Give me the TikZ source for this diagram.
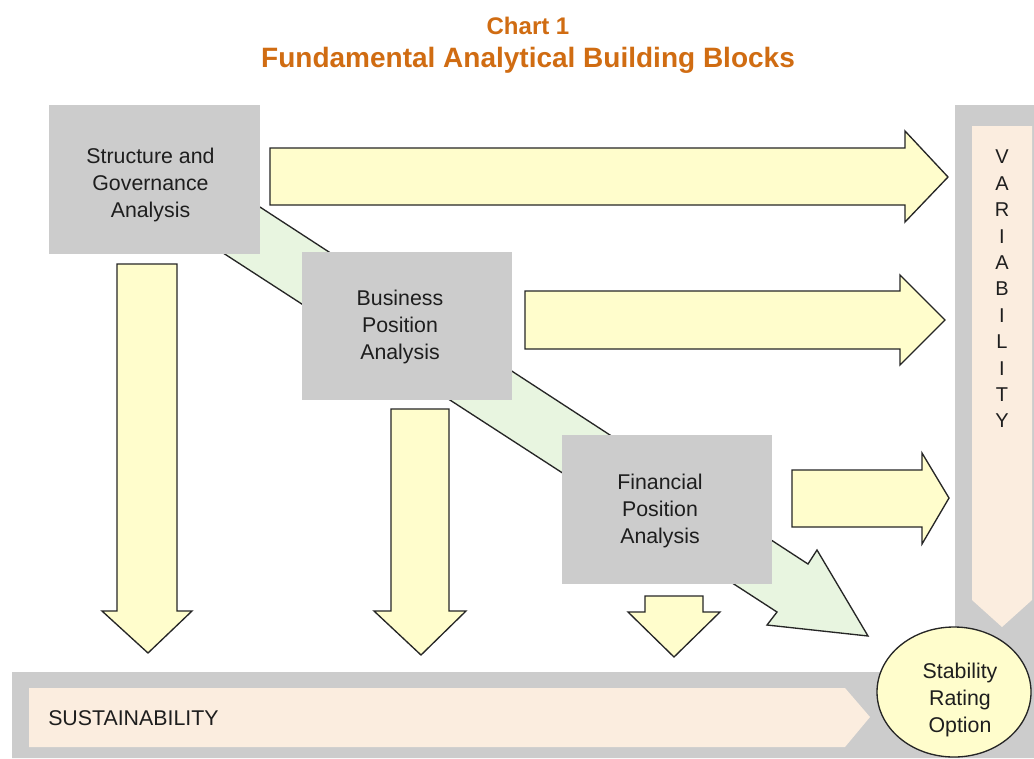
\documentclass[tikz,border=0pt]{standalone}
\usepackage{fontspec}
\setmainfont{Liberation Sans}
\usetikzlibrary{shapes.geometric}
\definecolor{boxgray}{RGB}{204,204,204}
\definecolor{ylw}{RGB}{255,253,204}
\definecolor{grn}{RGB}{232,245,224}
\definecolor{peach}{RGB}{251,237,223}
\definecolor{ttl}{RGB}{208,108,18}
\definecolor{txt}{RGB}{30,30,30}
\begin{document}
\begin{tikzpicture}[x=0.75pt,y=-0.75pt,
  blockbox/.style={fill=boxgray, draw=none, inner sep=0pt},
  yarrow/.style={fill=ylw, draw=black!85, line width=1pt, line join=miter},
  garrow/.style={fill=grn, draw=black!85, line width=1pt, line join=miter},
  framefill/.style={fill=boxgray, draw=none},
  peachfill/.style={fill=peach, draw=none},
  titlea/.style={font=\bfseries\fontsize{18}{22}\selectfont, text=ttl},
  titleb/.style={font=\bfseries\fontsize{21}{25}\selectfont, text=ttl},
  lbl/.style={font=\fontsize{16}{20.25}\selectfont, text=txt, inner sep=0pt, align=center}
]
\useasboundingbox (0,0) rectangle (1034,758);
\fill[white] (0,0) rectangle (1034,758);

% titles
\node[titlea] (t1) at (528,26) {Chart 1};
\node[titleb] (t2) at (528,60) {Fundamental Analytical Building Blocks};

% grey L frame
\path[framefill] (955,105) -- (1034,105) -- (1034,758) -- (12,758) -- (12,672) -- (955,672) -- cycle;
% peach strips
\path[peachfill] (972,126) -- (1032,126) -- (1032,600) -- (1002,627) -- (972,600) -- cycle;
\path[peachfill] (29,688) -- (845,688) -- (870,717) -- (845,747) -- (29,747) -- cycle;

% green diagonal band
\draw[garrow] (220,181) -- (808,564) -- (817,550) -- (868,636) -- (767,625) -- (777,612) -- (200,238) -- cycle;

% boxes
\node[blockbox, minimum width=158.25pt, minimum height=111.75pt] (sga) at (154.5,179.5) {};
\node[blockbox, minimum width=157.5pt, minimum height=111pt] (bpa) at (407,326) {};
\node[blockbox, minimum width=157.5pt, minimum height=111.75pt] (fpa) at (667,509.5) {};
\node[lbl] (sgat) at ([shift={(-4,5)}]sga.center) {Structure and\\Governance\\Analysis};
\node[lbl] (bpat) at ([shift={(-7,1)}]bpa.center) {Business\\Position\\Analysis};
\node[lbl] (fpat) at ([shift={(-7,1.5)}]fpa.center) {Financial\\Position\\Analysis};

% right arrows
\draw[yarrow] (270,148) -- (905,148) -- (905,131) -- (948,177) -- (905,222) -- (905,205) -- (270,205) -- cycle;
\draw[yarrow] (525,291) -- (900,291) -- (900,275) -- (945,320) -- (900,365) -- (900,349) -- (525,349) -- cycle;
\draw[yarrow] (792,470) -- (922,470) -- (922,453) -- (949,498) -- (922,544) -- (922,527) -- (792,527) -- cycle;

% down arrows
\draw[yarrow] (117,264) -- (177,264) -- (177,611) -- (192,611) -- (148,653) -- (102,611) -- (117,611) -- cycle;
\draw[yarrow] (391,409) -- (449,409) -- (449,611) -- (466,611) -- (421,655) -- (374,611) -- (391,611) -- cycle;
\draw[yarrow] (645,596) -- (703,596) -- (703,612) -- (720,612) -- (674,657) -- (628,612) -- (645,612) -- cycle;

% labels
\node[lbl, anchor=west] (sus) at (48,718) {SUSTAINABILITY};
\node[lbl, font=\fontsize{15}{19.8}\selectfont] (var) at (1002,289)
  {V\\A\\R\\I\\A\\B\\I\\L\\I\\T\\Y};

% stability ellipse
\node[ellipse, draw=black!85, line width=1pt, fill=ylw, minimum width=115.5pt, minimum height=97.5pt, inner sep=0pt] (sro) at (954,692) {};
\node[lbl] (srot) at (960,700) {Stability\\Rating\\Option};
\end{tikzpicture}
\end{document}
